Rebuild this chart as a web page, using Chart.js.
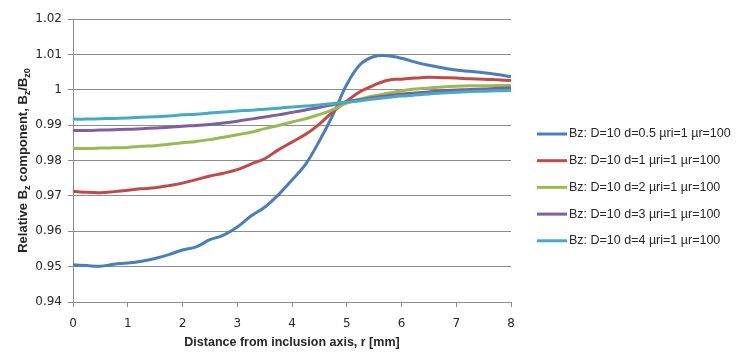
<!DOCTYPE html>
<html>
<head>
<meta charset="utf-8">
<script src="https://cdn.jsdelivr.net/npm/chart.js@4.4.0/dist/chart.umd.min.js"></script>
<style>
  html, body { margin: 0; padding: 0; background: #ffffff; }
  #wrap { width: 738px; height: 354px; }
</style>
</head>
<body>
<div id="wrap"><canvas id="c" width="738" height="354"></canvas></div>
<script>
const radii = [0,0.25,0.5,0.75,1,1.25,1.5,1.75,2,2.25,2.5,2.75,3,3.25,3.5,3.75,4,4.25,4.5,4.75,5,5.25,5.5,5.75,6,6.25,6.5,6.75,7,7.25,7.5,7.75,8];

const seriesLabels = [
  "Bz: D=10 d=0.5 \u00b5ri=1 \u00b5r=100",
  "Bz: D=10 d=1 \u00b5ri=1 \u00b5r=100",
  "Bz: D=10 d=2 \u00b5ri=1 \u00b5r=100",
  "Bz: D=10 d=3 \u00b5ri=1 \u00b5r=100",
  "Bz: D=10 d=4 \u00b5ri=1 \u00b5r=100"
];

const d05 = [0.9505,0.9503,0.9501,0.9507,0.9510,0.9515,0.9523,0.9534,0.9547,0.9556,0.9576,0.9589,0.9612,0.9643,0.9668,0.9703,0.9745,0.9790,0.9855,0.9930,1.0015,1.0072,1.0094,1.0096,1.0089,1.0078,1.0069,1.0062,1.0056,1.0052,1.0048,1.0043,1.0037];
const d1  = [0.9713,0.9710,0.9709,0.9712,0.9716,0.9720,0.9723,0.9729,0.9736,0.9746,0.9756,0.9764,0.9774,0.9790,0.9805,0.9830,0.9852,0.9874,0.9903,0.9938,0.9968,0.9995,1.0013,1.0027,1.0030,1.0033,1.0035,1.0034,1.0033,1.0031,1.0030,1.0028,1.0026];
const d2  = [0.9834,0.9834,0.9835,0.9836,0.9837,0.9840,0.9842,0.9846,0.9850,0.9854,0.9859,0.9866,0.9873,0.9880,0.9890,0.9899,0.9909,0.9918,0.9930,0.9944,0.9962,0.9974,0.9983,0.9990,0.9997,1.0002,1.0005,1.0008,1.0010,1.0011,1.0011,1.0012,1.0012];
const d3  = [0.9885,0.9885,0.9886,0.9887,0.9888,0.9890,0.9892,0.9894,0.9897,0.9899,0.9902,0.9906,0.9911,0.9917,0.9923,0.9929,0.9936,0.9943,0.9950,0.9958,0.9966,0.9972,0.9978,0.9983,0.9988,0.9991,0.9994,0.9997,0.9999,1.0001,1.0002,1.0004,1.0005];
const d4  = [0.9917,0.9917,0.9918,0.9919,0.9920,0.9922,0.9924,0.9926,0.9929,0.9931,0.9934,0.9937,0.9940,0.9942,0.9945,0.9948,0.9951,0.9954,0.9957,0.9961,0.9965,0.9969,0.9974,0.9978,0.9982,0.9985,0.9988,0.9991,0.9993,0.9995,0.9996,0.9997,0.9998];

const seriesValues = [d05, d1, d2, d3, d4];
const seriesColors = ["#4A7EBB", "#BE4B48", "#98B954", "#7D60A0", "#46AAC5"];

const xTicks = [0,1,2,3,4,5,6,7,8];
const yTicks = [0.94,0.95,0.96,0.97,0.98,0.99,1.00,1.01,1.02];

const xTitle = "Distance from inclusion axis, r [mm]";

const GRID = "#8C8C8C";
const TEXT = "#262626";

const datasets = seriesValues.map((vals, i) => ({
  label: seriesLabels[i],
  data: vals.map((v, j) => ({ x: radii[j], y: v })),
  borderColor: seriesColors[i],
  backgroundColor: seriesColors[i],
  borderWidth: 3,
  pointRadius: 0,
  tension: 0.35,
  fill: false
}));
datasets.reverse(); // draw blue on top

const titlesAndLegend = {
  id: "titlesAndLegend",
  afterDraw(chart) {
    const ctx = chart.ctx;
    const area = chart.chartArea;
    ctx.save();
    // X title
    ctx.fillStyle = TEXT;
    ctx.font = "bold 12.5px 'Liberation Sans', Arial, sans-serif";
    ctx.textAlign = "center";
    ctx.textBaseline = "middle";
    ctx.fillText(xTitle, (area.left + area.right) / 2, 343);

    // Y title with subscripts
    const parts = [
      ["Relative B", false], ["z", true], [" component, B", false], ["z", true], ["/B", false], ["z0", true]
    ];
    const big = "bold 13px 'Liberation Sans', Arial, sans-serif";
    const small = "bold 9px 'Liberation Sans', Arial, sans-serif";
    let total = 0;
    parts.forEach(p => { ctx.font = p[1] ? small : big; total += ctx.measureText(p[0]).width; });
    ctx.translate(23, (area.top + area.bottom) / 2);
    ctx.rotate(-Math.PI / 2);
    ctx.textAlign = "left";
    ctx.textBaseline = "alphabetic";
    let x = -total / 2;
    parts.forEach(p => {
      ctx.font = p[1] ? small : big;
      ctx.fillText(p[0], x, p[1] ? 7 : 4);
      x += ctx.measureText(p[0]).width;
    });
    ctx.restore();

    // Legend
    ctx.save();
    const lx = 537, ly0 = 134, step = 26.7;
    ctx.font = "12.5px 'Liberation Sans', Arial, sans-serif";
    ctx.textBaseline = "middle";
    ctx.textAlign = "left";
    seriesLabels.forEach((lab, i) => {
      const y = ly0 + i * step;
      ctx.strokeStyle = seriesColors[i];
      ctx.lineWidth = 3;
      ctx.beginPath();
      ctx.moveTo(lx, y);
      ctx.lineTo(lx + 30, y);
      ctx.stroke();
      ctx.fillStyle = TEXT;
      ctx.fillText(lab, lx + 32, y);
    });
    ctx.restore();
  }
};

new Chart(document.getElementById("c"), {
  type: "line",
  data: { datasets },
  options: {
    responsive: false,
    animation: false,
    devicePixelRatio: 1,
    layout: { padding: { left: 0, right: 227, top: 19, bottom: 0 } },
    plugins: { legend: { display: false }, tooltip: { enabled: false } },
    scales: {
      x: {
        type: "linear",
        min: 0, max: 8,
        afterFit(s) { s.height = 52; },
        afterBuildTicks(s) { s.ticks = xTicks.map(v => ({ value: v })); },
        grid: { drawOnChartArea: false, drawTicks: true, tickLength: 5, color: GRID },
        border: { color: GRID, width: 1 },
        ticks: { color: TEXT, font: { family: "'DejaVu Sans', sans-serif", size: 12 }, padding: 10, maxRotation: 0 }
      },
      y: {
        min: 0.94, max: 1.02,
        afterFit(s) { s.width = 73; },
        afterBuildTicks(s) { s.ticks = yTicks.map(v => ({ value: v })); },
        grid: { color: GRID, lineWidth: 1, drawTicks: true, tickLength: 5 },
        border: { color: GRID, width: 1 },
        ticks: {
          color: TEXT,
          font: { family: "'DejaVu Sans', sans-serif", size: 12 },
          padding: 6,
          callback: v => String(Number(v.toFixed(2)))
        }
      }
    }
  },
  plugins: [titlesAndLegend]
});
</script>
</body>
</html>
